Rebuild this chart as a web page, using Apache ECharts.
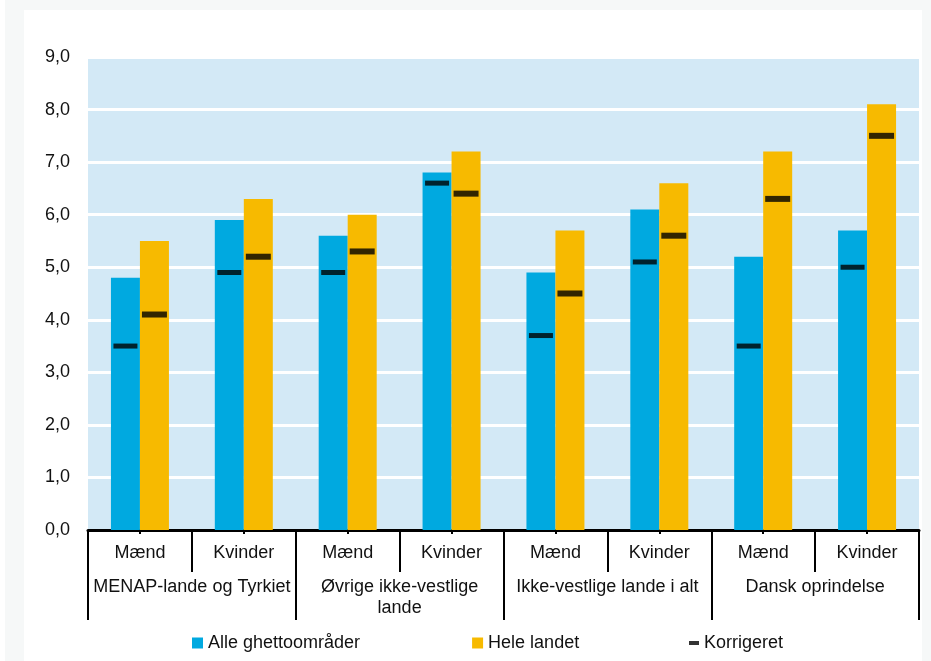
<!DOCTYPE html>
<html>
<head>
<meta charset="utf-8">
<script src="https://cdn.jsdelivr.net/npm/echarts@6/dist/echarts.min.js"></script>
<style>
html,body{margin:0;padding:0;background:#ffffff;}
#c{width:931px;height:661px;}
</style>
</head>
<body>
<div id="c"></div>
<script>
var subCategories = ['Mænd','Kvinder','Mænd','Kvinder','Mænd','Kvinder','Mænd','Kvinder'];
var groupCategories = ['MENAP-lande og Tyrkiet','Øvrige ikke-vestlige\nlande','Ikke-vestlige lande i alt','Dansk oprindelse'];
var ghettoValues = [4.8, 5.9, 5.6, 6.8, 4.9, 6.1, 5.2, 5.7];
var landetValues = [5.5, 6.3, 6.0, 7.2, 5.7, 6.6, 7.2, 8.1];
var korrGhetto = [3.5, 4.9, 4.9, 6.6, 3.7, 5.1, 3.5, 5.0];
var korrLandet = [4.1, 5.2, 5.3, 6.4, 4.5, 5.6, 6.3, 7.5];
var yTickLabels = ['0,0','1,0','2,0','3,0','4,0','5,0','6,0','7,0','8,0','9,0'];

var FONT = 'Arial, "Liberation Sans", sans-serif';
var chart = echarts.init(document.getElementById('c'), null, {renderer:'canvas'});
var option = {
  animation: false,
  backgroundColor: '#ffffff',
  textStyle: {fontFamily: FONT},
  graphic: [
    {type:'rect', z:-10, silent:true, shape:{x:5,y:0,width:926,height:661}, style:{fill:'#f6f8f8'}},
    {type:'rect', z:-9, silent:true, shape:{x:24,y:10,width:898,height:651}, style:{fill:'#ffffff'}}
  ],
  grid: {left:88, right:12, top:57, bottom:131, show:true, backgroundColor:'#d3e9f6', borderWidth:0},
  legend: [
    {data:['Alle ghettoområder','Hele landet'], left:187, top:629, itemWidth:11, itemHeight:11, itemGap:112,
     icon:'rect', textStyle:{fontSize:18, color:'#111', fontFamily:FONT}},
    {data:[{name:'Korrigeret', icon:'rect'}], left:684, top:629, itemWidth:10, itemHeight:4, itemGap:5,
     textStyle:{fontSize:18, color:'#111', fontFamily:FONT}, itemStyle:{color:'#000'}}
  ],
  xAxis: [
    {type:'category', data:subCategories, position:'bottom',
     axisLine:{show:true, lineStyle:{color:'#000', width:3}},
     axisTick:{show:true, interval:0, length:42, lineStyle:{color:'#000', width:2}},
     axisLabel:{interval:0, margin:14, fontSize:18, color:'#111', fontFamily:FONT},
     splitLine:{show:false}},
    {type:'category', data:groupCategories, position:'bottom', offset:0,
     axisLine:{show:false},
     axisTick:{show:true, interval:0, length:90, lineStyle:{color:'#000', width:2}},
     axisLabel:{interval:0, margin:47, fontSize:18, lineHeight:21, color:'#111', fontFamily:FONT},
     splitLine:{show:false}},
    {type:'category', data:subCategories, position:'bottom', offset:0,
     axisLine:{show:false},
     axisTick:{show:true, interval:0, alignWithLabel:true, length:4, lineStyle:{color:'#000', width:2}},
     axisLabel:{show:false}, splitLine:{show:false}}
  ],
  yAxis: {type:'value', min:0, max:9, interval:1,
    axisLine:{show:false}, axisTick:{show:false},
    axisLabel:{margin:18, fontSize:18, color:'#111', fontFamily:FONT,
      formatter:function(v){return yTickLabels[Math.round(v)];}},
    splitLine:{show:true, lineStyle:{color:'#ffffff', width:3}}},
  series: [
    {name:'Alle ghettoområder', type:'bar', xAxisIndex:0, data:ghettoValues, barWidth:29, barGap:'0%',
     itemStyle:{color:'#00a9e0'}},
    {name:'Hele landet', type:'bar', xAxisIndex:0, data:landetValues, barWidth:29, barGap:'0%',
     itemStyle:{color:'#f7ba00'}},
    {name:'Korrigeret', type:'scatter', xAxisIndex:0, data:korrGhetto, symbol:'rect', symbolSize:[24,5],
     symbolOffset:[-14.5,0], itemStyle:{color:'#000'}, z:5},
    {name:'Korrigeret', type:'scatter', xAxisIndex:0, data:korrLandet, symbol:'rect', symbolSize:[25,6],
     symbolOffset:[14.5,0], itemStyle:{color:'#000'}, z:5}
  ]
};
chart.setOption(option);
</script>
</body>
</html>
